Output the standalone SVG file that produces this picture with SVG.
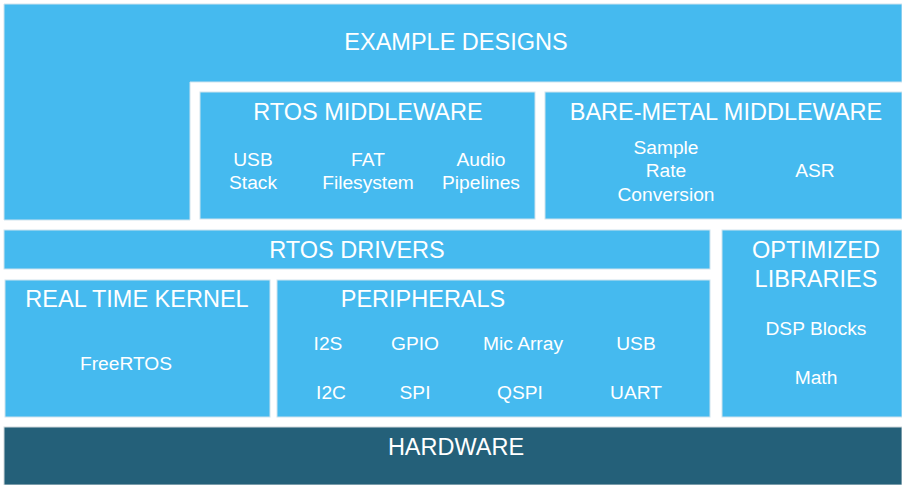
<svg xmlns="http://www.w3.org/2000/svg" width="902" height="485" viewBox="0 0 902 485">
  <style>
    .blk { fill: #45BAEF; stroke: #cfe3ee; stroke-width: 1; }
    .hw { fill: #246079; stroke: #cfd8dc; stroke-width: 1; }
    text { font-family: "Liberation Sans", Arial, sans-serif; fill: #ffffff; text-anchor: middle; }
    .title { font-size: 23.5px; }
    .item { font-size: 19.2px; }
  </style>
  <rect x="0" y="0" width="902" height="485" fill="#ffffff"/>

  <g id="example-designs">
    <path class="blk" d="M4,4 H902 V82 H190 V220 H4 Z"/>
    <text class="title" x="456" y="50">EXAMPLE DESIGNS</text>
  </g>

  <g id="rtos-middleware">
    <rect class="blk" x="200" y="92" width="335" height="127"/>
    <text class="title" x="368" y="120">RTOS MIDDLEWARE</text>
    <text class="item" x="253" y="166">USB</text>
    <text class="item" x="253" y="189">Stack</text>
    <text class="item" x="368" y="166">FAT</text>
    <text class="item" x="368" y="189">Filesystem</text>
    <text class="item" x="481" y="166">Audio</text>
    <text class="item" x="481" y="189">Pipelines</text>
  </g>

  <g id="bare-metal-middleware">
    <rect class="blk" x="545" y="92" width="357" height="127"/>
    <text class="title" x="726" y="120">BARE-METAL MIDDLEWARE</text>
    <text class="item" x="666" y="154">Sample</text>
    <text class="item" x="666" y="177">Rate</text>
    <text class="item" x="666" y="201">Conversion</text>
    <text class="item" x="815" y="177">ASR</text>
  </g>

  <g id="rtos-drivers">
    <rect class="blk" x="4" y="230" width="706" height="39"/>
    <text class="title" x="357" y="258">RTOS DRIVERS</text>
  </g>

  <g id="optimized-libraries">
    <rect class="blk" x="722" y="230" width="180" height="187"/>
    <text class="title" x="816" y="258">OPTIMIZED</text>
    <text class="title" x="816" y="287">LIBRARIES</text>
    <text class="item" x="816" y="335">DSP Blocks</text>
    <text class="item" x="816" y="384">Math</text>
  </g>

  <g id="real-time-kernel">
    <rect class="blk" x="5" y="280" width="265" height="137"/>
    <text class="title" x="137" y="307">REAL TIME KERNEL</text>
    <text class="item" x="126" y="370">FreeRTOS</text>
  </g>

  <g id="peripherals">
    <rect class="blk" x="277" y="280" width="433" height="137"/>
    <text class="title" x="423" y="307">PERIPHERALS</text>
    <text class="item" x="328" y="350">I2S</text>
    <text class="item" x="415" y="350">GPIO</text>
    <text class="item" x="523" y="350">Mic Array</text>
    <text class="item" x="636" y="350">USB</text>
    <text class="item" x="331" y="399">I2C</text>
    <text class="item" x="415" y="399">SPI</text>
    <text class="item" x="520" y="399">QSPI</text>
    <text class="item" x="636" y="399">UART</text>
  </g>

  <g id="hardware">
    <rect class="hw" x="4" y="427" width="898" height="58"/>
    <text class="title" x="456" y="455">HARDWARE</text>
  </g>

  <g id="connectors"></g>
</svg>
